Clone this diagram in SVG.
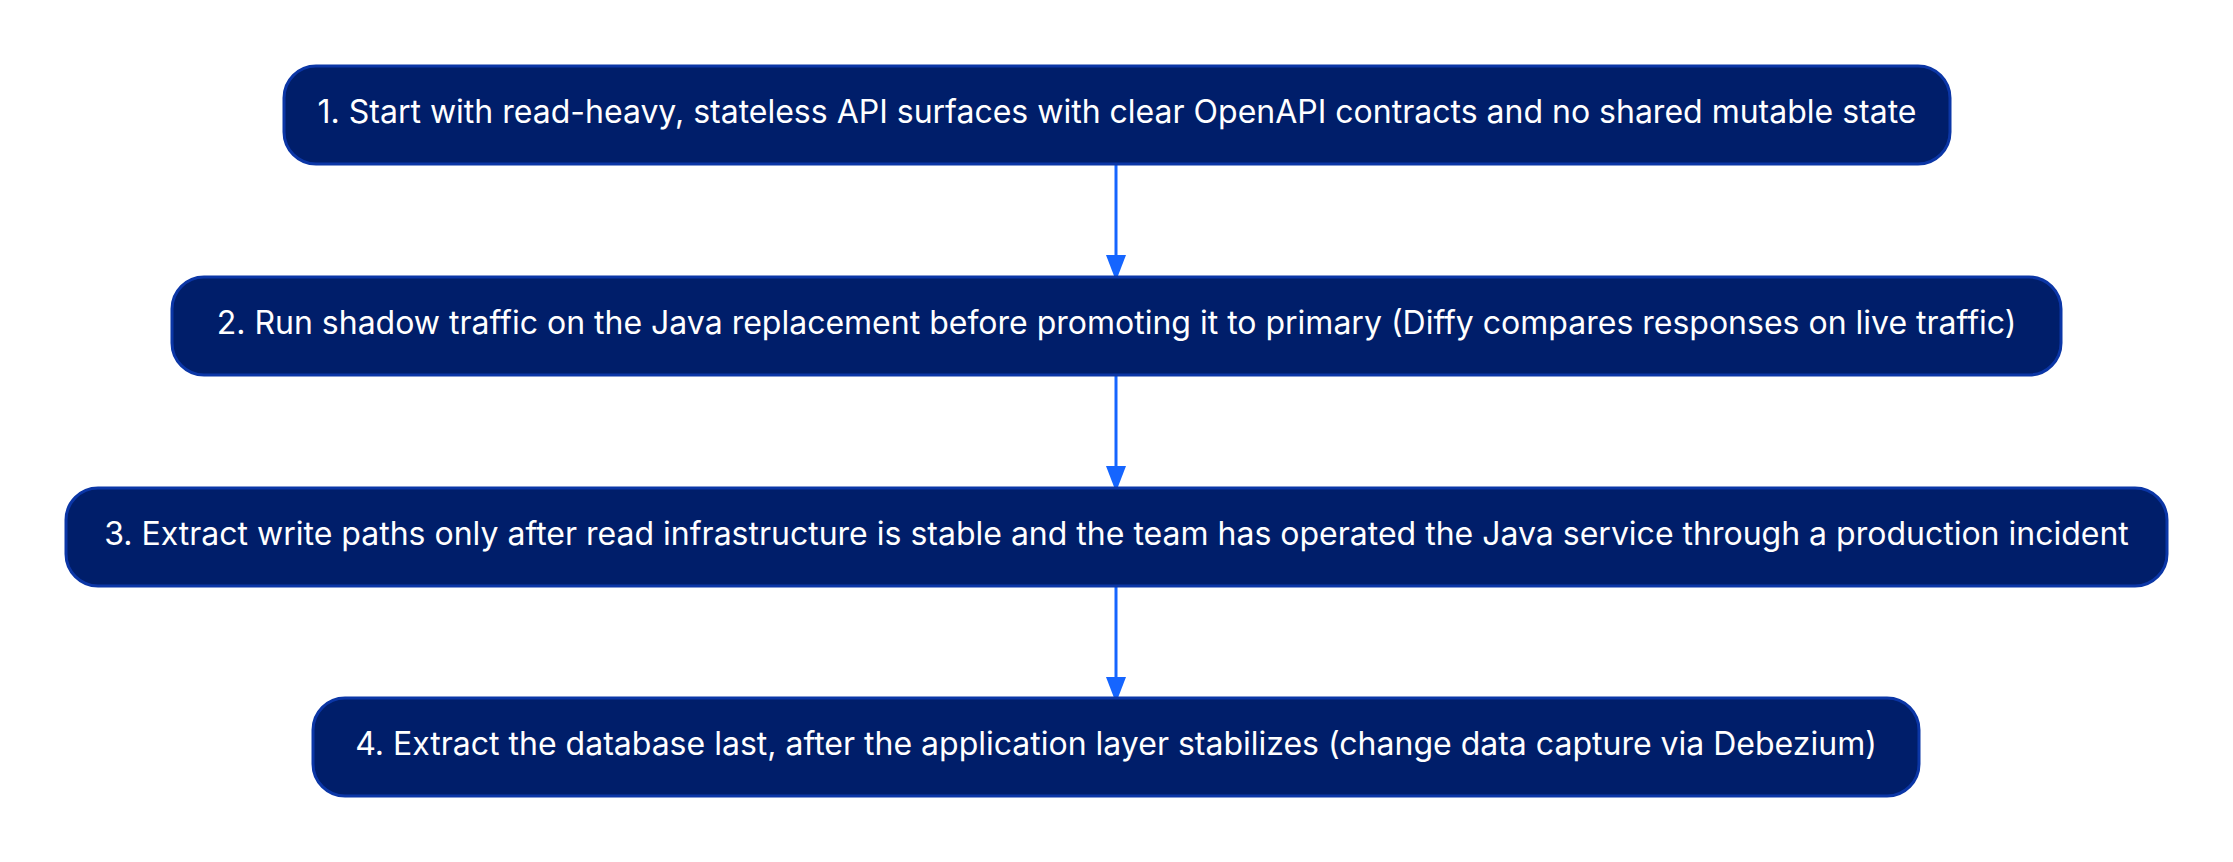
<svg xmlns="http://www.w3.org/2000/svg" width="2233" height="862" viewBox="0 0 2233 862">
<style>
.node rect{fill:#001E6A;stroke:#0B36A6;stroke-width:3}
.node text{fill:#FFFFFF;font-family:Inter,"Liberation Sans",sans-serif;font-size:32px;text-anchor:middle}
.edge{stroke:#1565FF;stroke-width:3;fill:none;marker-end:url(#ah)}
</style>
<defs>
<marker id="ah" markerWidth="26" markerHeight="20" refX="1" refY="10" orient="auto" markerUnits="userSpaceOnUse" viewBox="0 0 26 20">
<path d="M0,0 L26,10 L0,20 Z" fill="#1565FF"/>
</marker>
</defs>
<rect width="2233" height="862" fill="#FFFFFF"/>
<g id="connectors">
<path class="edge" d="M1116,165 L1116,256"/>
<path class="edge" d="M1116,376 L1116,467"/>
<path class="edge" d="M1116,587 L1116,678"/>
</g>
<g id="node1" class="node">
<rect x="284" y="66" width="1666" height="98" rx="32"/>
<text x="1117" y="123">1. Start with read-heavy, stateless API surfaces with clear OpenAPI contracts and no shared mutable state</text>
</g>
<g id="node2" class="node">
<rect x="172" y="277" width="1889" height="98" rx="32"/>
<text x="1116.5" y="334">2. Run shadow traffic on the Java replacement before promoting it to primary (Diffy compares responses on live traffic)</text>
</g>
<g id="node3" class="node">
<rect x="66" y="488" width="2101" height="98" rx="32"/>
<text x="1116.5" y="545">3. Extract write paths only after read infrastructure is stable and the team has operated the Java service through a production incident</text>
</g>
<g id="node4" class="node">
<rect x="313" y="698" width="1606" height="98" rx="32"/>
<text x="1116" y="755">4. Extract the database last, after the application layer stabilizes (change data capture via Debezium)</text>
</g>
</svg>
